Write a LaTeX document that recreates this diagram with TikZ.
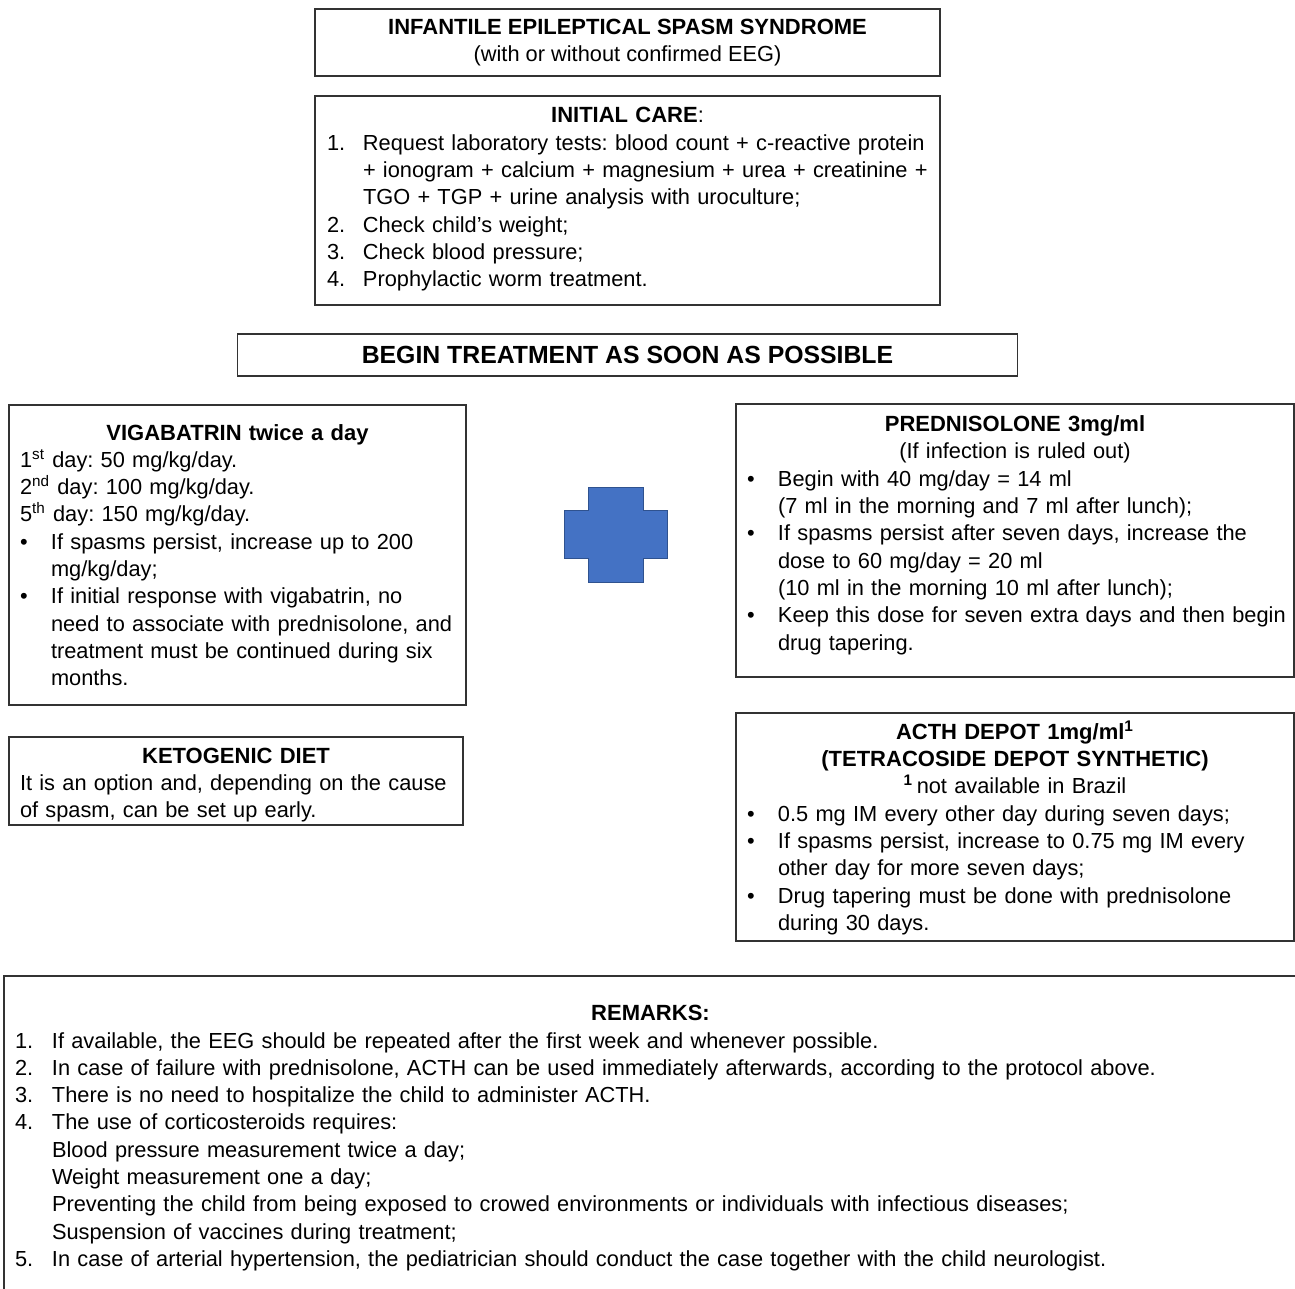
\documentclass[tikz,border=0pt]{standalone}
\usepackage{fontspec}
\setmainfont{Liberation Sans}
\usepackage{tikz}
\usetikzlibrary{positioning}
\definecolor{plusblue}{HTML}{4472C4}
\definecolor{plusedge}{HTML}{2F528F}
\frenchspacing

\newcommand{\itemline}[3]{\par\noindent\makebox[#1][l]{#2}\mbox{#3}}
\newcommand{\midline}[1]{\par\noindent\makebox[\linewidth]{#1}}
\newcommand{\toprule}[1]{\rule{0pt}{#1}}
\newcommand{\botrule}[1]{\rule[-#1]{0pt}{#1}}
\newcommand{\boxtitle}[1]{{\fontsize{11}{13.65}\selectfont\bfseries #1}}

\begin{document}
\begin{tikzpicture}[x=0.5pt, y=-0.5pt, font=\fontsize{10.9}{13.65}\selectfont]
\tikzstyle{box}=[draw=black!80, line width=0.8pt, rectangle, inner ysep=0pt, outer sep=0pt]
\tikzstyle{listbox}=[box, anchor=north west, align=left, inner xsep=5.5pt]
\tikzstyle{plus}=[fill=plusblue, draw=plusedge, line width=0.5pt]
\useasboundingbox (0,0) rectangle (1295,1289);
\clip (0,0) rectangle (1295,1289);
\node[box, align=center, anchor=north west, minimum width=312.5pt, minimum height=33.5pt] (syn) at (315,9) {\boxtitle{INFANTILE EPILEPTICAL SPASM SYNDROME}\\(with or without confirmed EEG)};
\node[listbox, inner xsep=6pt, text width=300.5pt, below=10pt of syn] (care) {%
\toprule{13.5pt}\makebox[\linewidth]{\boxtitle{INITIAL CARE}:}
\itemline{18pt}{1.}{Request laboratory tests: blood count + c-reactive protein}
\itemline{18pt}{}{+ ionogram + calcium + magnesium + urea + creatinine +}
\itemline{18pt}{}{TGO + TGP + urine analysis with uroculture;}
\itemline{18pt}{2.}{Check child’s weight;}
\itemline{18pt}{3.}{Check blood pressure;}
\itemline{18pt}{4.}{Prophylactic worm treatment.\botrule{9.1pt}}};
\node[box, font=\fontsize{12.4}{14}\selectfont\bfseries, minimum width=390pt, minimum height=21pt, below=14.5pt of care] (begin) {BEGIN TREATMENT AS SOON AS POSSIBLE};

% left column
\node[listbox, text width=217.5pt] (vig) at (9,405) {%
\toprule{17.5pt}\makebox[\linewidth]{\boxtitle{VIGABATRIN twice a day}}
\itemline{0pt}{}{1\textsuperscript{st} day: 50 mg/kg/day.}
\itemline{0pt}{}{2\textsuperscript{nd} day: 100 mg/kg/day.}
\itemline{0pt}{}{5\textsuperscript{th} day: 150 mg/kg/day.}
\itemline{15.5pt}{\textbullet}{If spasms persist, increase up to 200}
\itemline{15.5pt}{}{mg/kg/day;}
\itemline{15.5pt}{\textbullet}{If initial response with vigabatrin, no}
\itemline{15.5pt}{}{need to associate with prednisolone, and}
\itemline{15.5pt}{}{treatment must be continued during six}
\itemline{15.5pt}{}{months.\botrule{9.65pt}}};
\node[listbox, text width=216pt, below=16pt of vig.south west, anchor=north west] (keto) {%
\toprule{13.15pt}\makebox[\linewidth]{\boxtitle{KETOGENIC DIET}}
\itemline{0pt}{}{It is an option and, depending on the cause}
\itemline{0pt}{}{of spasm, can be set up early.\botrule{3.55pt}}};

% plus sign
\draw[plus] (588,487) -- (643,487) -- (643,510) -- (667,510) -- (667,558) -- (643,558) -- (643,582) -- (588,582) -- (588,558) -- (564,558) -- (564,510) -- (588,510) -- cycle;

% right column
\node[listbox, text width=268pt] (pred) at (736,404) {%
\toprule{13.8pt}\makebox[\linewidth]{\boxtitle{PREDNISOLONE 3mg/ml}}
\midline{(If infection is ruled out)}
\itemline{15.5pt}{\textbullet}{Begin with 40 mg/day = 14 ml}
\itemline{15.5pt}{}{(7 ml in the morning and 7 ml after lunch);}
\itemline{15.5pt}{\textbullet}{If spasms persist after seven days, increase the}
\itemline{15.5pt}{}{dose to 60 mg/day = 20 ml}
\itemline{15.5pt}{}{(10 ml in the morning 10 ml after lunch);}
\itemline{15.5pt}{\textbullet}{Keep this dose for seven extra days and then begin}
\itemline{15.5pt}{}{drug tapering.\botrule{13.5pt}}};
\node[listbox, text width=268pt, below=18pt of pred.south west, anchor=north west] (acth) {%
\toprule{13.15pt}\makebox[\linewidth]{\boxtitle{ACTH DEPOT 1mg/ml\textsuperscript{1}}}
\midline{\boxtitle{(TETRACOSIDE DEPOT SYNTHETIC)}}
\midline{\textbf{\textsuperscript{1}}\,not available in Brazil}
\itemline{15.5pt}{\textbullet}{0.5 mg IM every other day during seven days;}
\itemline{15.5pt}{\textbullet}{If spasms persist, increase to 0.75 mg IM every}
\itemline{15.5pt}{}{other day for more seven days;}
\itemline{15.5pt}{\textbullet}{Drug tapering must be done with prednisolone}
\itemline{15.5pt}{}{during 30 days.\botrule{5.2pt}}};

% remarks
\node[listbox, text width=635.5pt] (rem) at (4,976) {%
\toprule{22.35pt}\makebox[\linewidth]{\boxtitle{REMARKS:}}
\itemline{18.5pt}{1.}{If available, the EEG should be repeated after the first week and whenever possible.}
\itemline{18.5pt}{2.}{In case of failure with prednisolone, ACTH can be used immediately afterwards, according to the protocol above.}
\itemline{18.5pt}{3.}{There is no need to hospitalize the child to administer ACTH.}
\itemline{18.5pt}{4.}{The use of corticosteroids requires:}
\itemline{18.5pt}{}{Blood pressure measurement twice a day;}
\itemline{18.5pt}{}{Weight measurement one a day;}
\itemline{18.5pt}{}{Preventing the child from being exposed to crowed environments or individuals with infectious diseases;}
\itemline{18.5pt}{}{Suspension of vaccines during treatment;}
\itemline{18.5pt}{5.}{In case of arterial hypertension, the pediatrician should conduct the case together with the child neurologist.\botrule{20pt}}};
\end{tikzpicture}
\end{document}
